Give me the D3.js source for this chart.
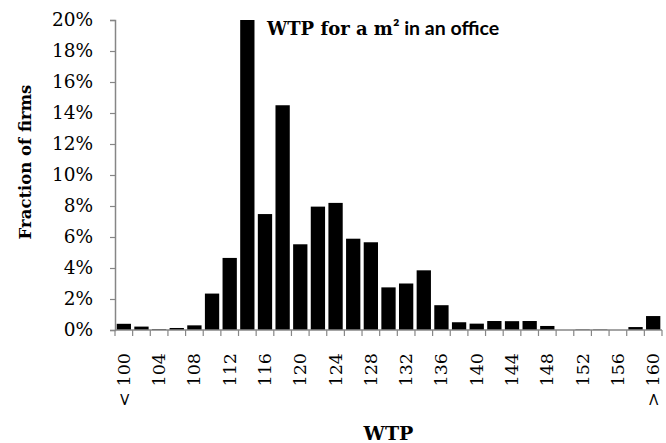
<!DOCTYPE html>
<html><head><meta charset="utf-8">
<script src="https://cdn.jsdelivr.net/npm/d3@7"></script>
<style>body{margin:0;background:#fff;} svg{display:block;}</style>
</head><body>
<div id="chart"></div>
<script>
const categories = ["< 100","102","104","106","108","110","112","114","116","118","120","122","124","126","128","130","132","134","136","138","140","142","144","146","148","150","152","154","156","158","> 160"];
const shownLabels = ["< 100","104","108","112","116","120","124","128","132","136","140","144","148","152","156","> 160"];
const values = [0.40,0.22,0.05,0.13,0.30,2.35,4.65,20.0,7.48,14.5,5.53,7.96,8.2,5.89,5.66,2.75,3.0,3.85,1.6,0.5,0.41,0.58,0.57,0.58,0.26,0.0,0.03,0.03,0.0,0.19,0.9];
const yTicks = [0,2,4,6,8,10,12,14,16,18,20];

const W = 666, H = 443;
const m = {left:115, right:4, top:20, bottom:113};
const svg = d3.select("#chart").append("svg").attr("width",W).attr("height",H);
const x = d3.scaleBand().domain(categories).range([m.left, W-m.right]).paddingInner(0.19).paddingOuter(0.095);
const xb = d3.scaleBand().domain(categories).range([m.left, W-m.right]);
const y = d3.scaleLinear().domain([0,20]).range([H-m.bottom, m.top]);
const axisColor = "#868686";
const serif = "'DejaVu Serif', serif";

// bars
svg.append("g").selectAll("rect").data(values).join("rect")
  .attr("x",(d,i)=>x(categories[i]))
  .attr("width",x.bandwidth())
  .attr("y",d=>y(d))
  .attr("height",d=>y(0)-y(d))
  .attr("fill","#000");

// y axis
const yAxis = svg.append("g").attr("transform",`translate(${m.left},0)`)
  .call(d3.axisLeft(y).tickValues(yTicks).tickSize(5).tickPadding(17).tickFormat(d=>d+"%"));
yAxis.select(".domain").attr("stroke",axisColor).attr("stroke-width",1.5);
yAxis.selectAll(".tick line").attr("stroke",axisColor).attr("stroke-width",1.2);
yAxis.selectAll("text").attr("font-family",serif).attr("font-size","18.5px").attr("fill","#000");

// x axis: ticks at category boundaries
const xg = svg.append("g").attr("transform",`translate(0,${y(0)})`);
xg.append("line").attr("x1",m.left).attr("x2",W-m.right).attr("y1",0).attr("y2",0)
  .attr("stroke",axisColor).attr("stroke-width",1.5);
const bounds = categories.map(c=>xb(c)).concat([xb(categories[categories.length-1])+xb.bandwidth()]);
xg.selectAll("line.tk").data(bounds).join("line").attr("class","tk")
  .attr("x1",d=>d).attr("x2",d=>d).attr("y1",0).attr("y2",6)
  .attr("stroke",axisColor).attr("stroke-width",1.2);
xg.selectAll("text.lab").data(shownLabels).join("text").attr("class","lab")
  .attr("transform",d=>`translate(${xb(d)+xb.bandwidth()/2+6},23) rotate(-90)`)
  .attr("text-anchor","end")
  .attr("font-family",serif).attr("font-size","17.5px").attr("fill","#000")
  .text(d=>d);

// axis titles
svg.append("text").attr("transform","translate(31,162) rotate(-90)")
  .attr("text-anchor","middle").attr("font-family",serif).attr("font-weight","bold")
  .attr("font-size","16.5px").text("Fraction of firms");
svg.append("text").attr("x",(m.left+W-m.right)/2).attr("y",440)
  .attr("text-anchor","middle").attr("font-family",serif).attr("font-weight","bold")
  .attr("font-size","19px").text("WTP");

// chart title
const t = svg.append("text").attr("x",267).attr("y",35).attr("font-weight","bold");
t.append("tspan").attr("font-family",serif).attr("font-size","18px").text("WTP for a m");
t.append("tspan").attr("font-family","Lato, 'Open Sans', sans-serif").attr("font-size","19.5px").text("² in an office");
</script>
</body></html>
